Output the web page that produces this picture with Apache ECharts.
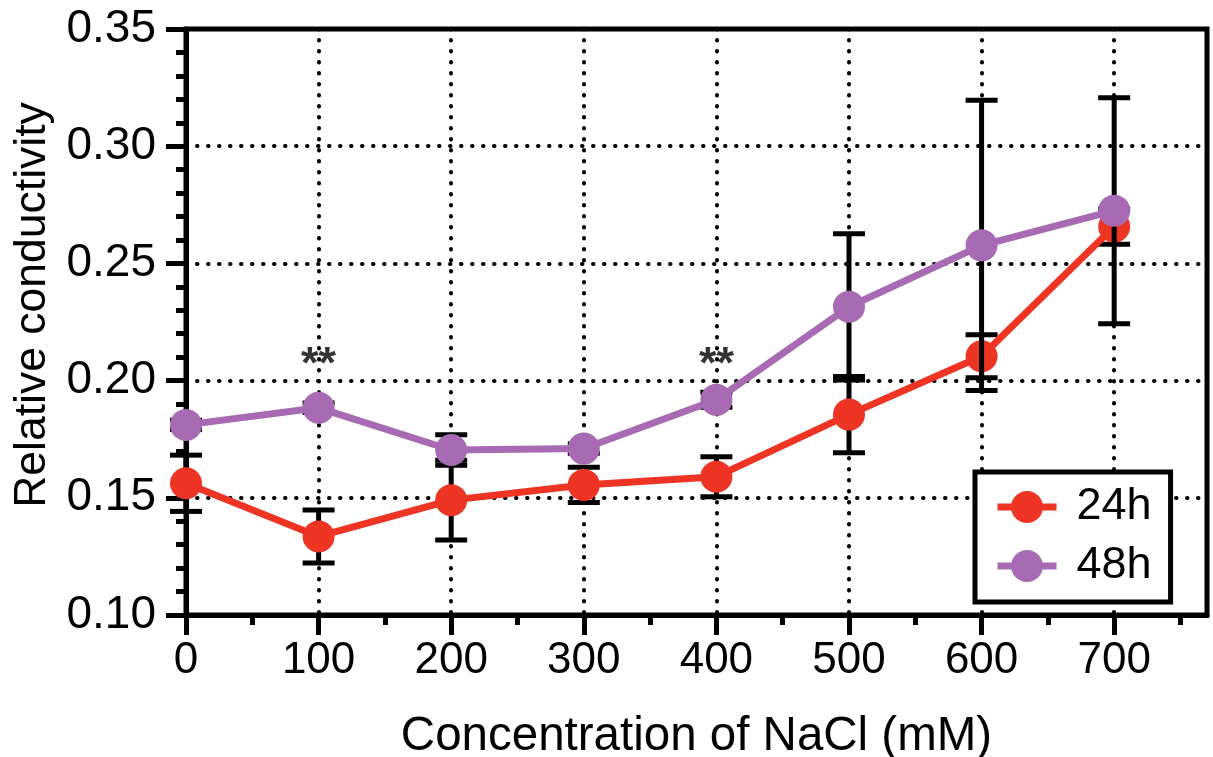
<!DOCTYPE html>
<html>
<head>
<meta charset="utf-8">
<script src="https://cdn.jsdelivr.net/npm/echarts@6/dist/echarts.min.js"></script>
<style>
  html, body { margin: 0; padding: 0; background: #fff; }
  #chart { width: 1213px; height: 757px; }
</style>
</head>
<body>
<div id="chart"></div>
<script>
  // data
  const conc = [0, 100, 200, 300, 400, 500, 600, 700];
  const mean24 = [0.1562, 0.1335, 0.1490, 0.1555, 0.1590, 0.1855, 0.2104, 0.2657];
  const sd24 = [0.0120, 0.0113, 0.0170, 0.0075, 0.0085, 0.0163, 0.0092, 0.0075];
  const mean48 = [0.1811, 0.1884, 0.1704, 0.1710, 0.1918, 0.2315, 0.2577, 0.2725];
  const sd48 = [0.0020, 0.0020, 0.0065, 0.0020, 0.0032, 0.0312, 0.0619, 0.0482];
  const sigX = [100, 400];
  const sigY = [0.2065, 0.2065];
  const majorX = [0, 100, 200, 300, 400, 500, 600, 700];
  const minorX = [50, 150, 250, 350, 450, 550, 650, 750];

  const font = "'Liberation Sans', Arial, sans-serif";
  const red = '#EE3524';
  const purple = '#A86BB3';
  const dots = { color: '#000', width: 4, type: [0.5, 10.5], cap: 'round' };

  function pts(mean) {
    return conc.map((x, i) => [x, mean[i]]);
  }
  function bars(mean, sd) {
    return conc.map((x, i) => [x, mean[i] - sd[i], mean[i] + sd[i]]);
  }

  function renderErr(params, api) {
    const x = api.value(0);
    const hi = api.coord([x, api.value(2)]);
    const lo = api.coord([x, api.value(1)]);
    const w = 16;
    const style = { stroke: '#000', lineWidth: 5 };
    return {
      type: 'group',
      children: [
        { type: 'line', shape: { x1: hi[0], y1: hi[1], x2: lo[0], y2: lo[1] }, style: style },
        { type: 'line', shape: { x1: hi[0] - w, y1: hi[1], x2: hi[0] + w, y2: hi[1] }, style: style },
        { type: 'line', shape: { x1: lo[0] - w, y1: lo[1], x2: lo[0] + w, y2: lo[1] }, style: style }
      ]
    };
  }

  let chart = echarts.init(document.getElementById('chart'));

  let option = {
    animation: false,
    grid: {
      left: 186, right: 6, top: 29, bottom: 142,
      outerBoundsMode: 'none',
      show: true, borderColor: '#000', borderWidth: 5
    },
    legend: {
      data: ['24h', '48h'],
      orient: 'vertical',
      left: 975, top: 472,
      padding: [12, 19, 13, 19],
      itemGap: 13,
      itemWidth: 59, itemHeight: 40,
      backgroundColor: '#fff',
      borderColor: '#000', borderWidth: 5,
      selectedMode: false,
      lineStyle: { width: 7 },
      textStyle: { fontFamily: font, fontSize: 45, color: '#000', lineHeight: 46, padding: [0, 0, 0, 15] }
    },
    xAxis: [{
      type: 'value', position: 'bottom',
      min: 0, max: 770, interval: 100,
      name: 'Concentration of NaCl (mM)',
      nameLocation: 'middle', nameGap: 98,
      nameTextStyle: { fontFamily: font, fontSize: 47.5, color: '#000' },
      axisLine: { onZero: false, lineStyle: { color: '#000', width: 5 } },
      axisTick: { customValues: majorX, length: 20, lineStyle: { color: '#000', width: 5 } },
      axisLabel: { customValues: majorX, margin: 24, fontFamily: font, fontSize: 44, color: '#000' },
      splitLine: { show: true, lineStyle: dots }
    }, {
      type: 'value', position: 'bottom',
      min: 0, max: 770, interval: 50,
      axisLine: { show: false, onZero: false },
      axisTick: { customValues: minorX, length: 10, lineStyle: { color: '#000', width: 5 } },
      axisLabel: { show: false },
      splitLine: { show: false }
    }],
    yAxis: {
      type: 'value',
      min: 0.10, max: 0.35, interval: 0.05,
      name: 'Relative conductivity',
      nameLocation: 'middle', nameGap: 130,
      nameTextStyle: { fontFamily: font, fontSize: 44.5, color: '#000', padding: [0, 0, 0, 34] },
      axisLine: { lineStyle: { color: '#000', width: 5 } },
      axisTick: { length: 20, lineStyle: { color: '#000', width: 5 } },
      minorTick: { show: true, splitNumber: 5, length: 10, lineStyle: { color: '#000', width: 5 } },
      axisLabel: {
        margin: 30, fontFamily: font, fontSize: 46, color: '#000',
        formatter: v => v.toFixed(2)
      },
      splitLine: { show: true, lineStyle: dots }
    },
    series: [
      {
        type: 'custom', name: 'err24', z: 2,
        renderItem: renderErr,
        encode: { x: 0, y: [1, 2] },
        data: bars(mean24, sd24)
      },
      {
        type: 'line', name: '24h', z: 3,
        data: pts(mean24),
        symbol: 'circle', symbolSize: 32,
        color: red,
        itemStyle: { color: red },
        lineStyle: { color: red, width: 7 }
      },
      {
        type: 'custom', name: 'err48', z: 4,
        renderItem: renderErr,
        encode: { x: 0, y: [1, 2] },
        data: bars(mean48, sd48)
      },
      {
        type: 'line', name: '48h', z: 5,
        data: pts(mean48),
        symbol: 'circle', symbolSize: 32,
        color: purple,
        itemStyle: { color: purple },
        lineStyle: { color: purple, width: 7 }
      },
      {
        type: 'scatter', name: 'sig', z: 6,
        symbolSize: 0,
        itemStyle: { color: '#000' },
        data: sigX.map((x, i) => [x, sigY[i]]),
        label: {
          show: true, position: 'inside', formatter: '**',
          fontFamily: font, fontSize: 45, fontWeight: 'bold', color: '#000',
          textBorderWidth: 0
        }
      }
    ]
  };

  chart.setOption(option);
</script>
</body>
</html>
